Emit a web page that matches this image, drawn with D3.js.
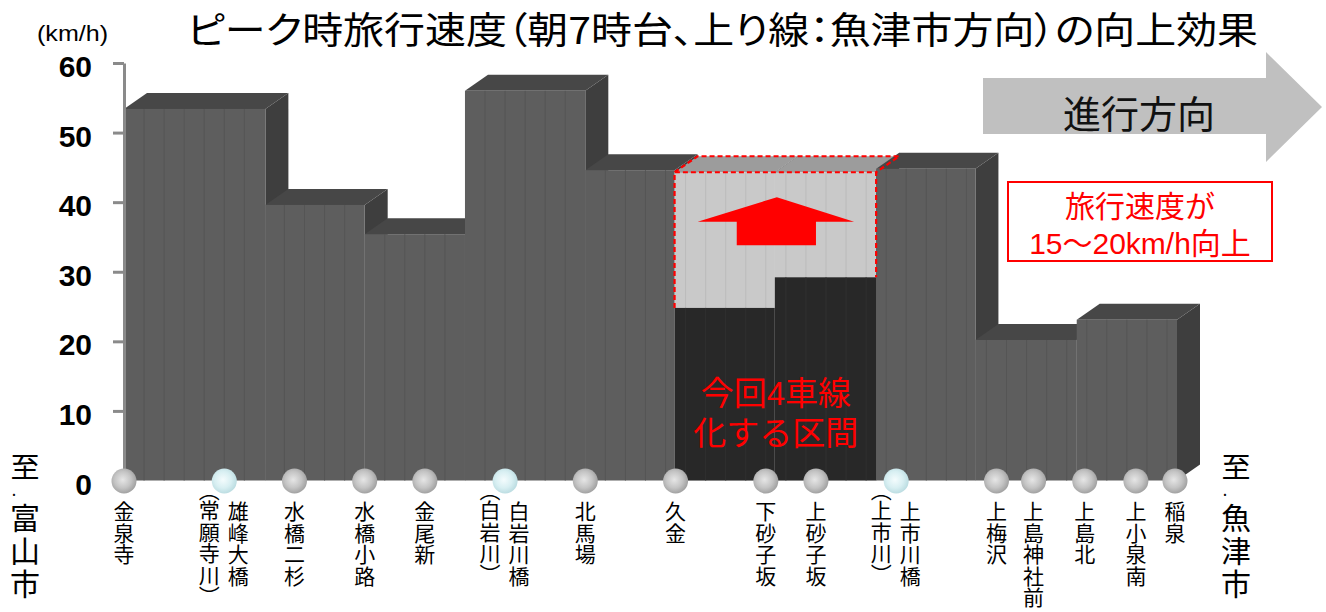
<!DOCTYPE html>
<html><head><meta charset="utf-8">
<script src="https://cdn.jsdelivr.net/npm/d3@7"></script>
<style>
html,body{margin:0;padding:0;background:#fff;}
svg{display:block;}
text{font-family:"Noto Sans CJK JP","Noto Sans",sans-serif;}
</style></head><body>
<svg id="c" width="1326" height="612"></svg>
<script>
// ---- data ----
const yTicks = [0, 10, 20, 30, 40, 50, 60];
const segStartKm = [0, 1.41, 2.40, 3.40, 4.60, 5.49, 6.49, 7.50, 8.49, 9.50];
const segEndKm   = [1.41, 2.40, 3.40, 4.60, 5.49, 6.49, 7.50, 8.49, 9.50, 10.50];
const speedBefore = [53.4, 39.6, 35.4, 56.0, 44.6, 24.8, 29.2, 44.8, 20.2, 23.1];
const speedAfter  = [null, null, null, null, null, 44.3, 44.3, null, null, null];
const stationNames = ["金泉寺","雄峰大橋","水橋二杉","水橋小路","金尾新","白岩川橋","北馬場","久金","下砂子坂","上砂子坂","上市川橋","上梅沢","上島神社前","上島北","上小泉南","稲泉"];
const stationSubs  = ["","（常願寺川）","","","","（白岩川）","","","","","（上市川）","","","","",""];
const stationKm    = [0, 1.0, 1.7, 2.4, 3.0, 3.8, 4.6, 5.5, 6.4, 6.9, 7.7, 8.7, 9.07, 9.58, 10.09, 10.48];
const stationBridge = [false,true,false,false,false,true,false,false,false,false,true,false,false,false,false,false];
const columnStepKm = 0.2;
const title = "ピーク時旅行速度（朝7時台、上り線：魚津市方向）の向上効果";
const unitLabel = "(km/h)";
const dirLabel = "進行方向";
const boxLines = ["旅行速度が", "15～20km/h向上"];
const sectionLines = ["今回4車線", "化する区間"];
const leftEnd = ["至", "富山市"], rightEnd = ["至", "魚津市"];
// improvement arrow (km, km/h)
const upArrow = {tip:[6.51, 40.7], wingL:5.72, wingR:7.28, wingY:37.2, shaftL:6.11, shaftR:6.90, shaftY:33.8};

// ---- scales ----
const svg = d3.select("#c");
const x = d3.scaleLinear().domain([0, 10.5]).range([124, 1177]);
const y = d3.scaleLinear().domain([0, 60]).range([480.5, 63]);
const DX = 23, DY = 16;
const latinFirst = "'Liberation Sans','Noto Sans CJK JP',sans-serif";

const defs = svg.append("defs");
function sphereGrad(id, c0, c1, c2){
  const g = defs.append("radialGradient").attr("id", id).attr("cx","45%").attr("cy","45%").attr("r","60%");
  g.append("stop").attr("offset","0%").attr("stop-color",c0);
  g.append("stop").attr("offset","55%").attr("stop-color",c1);
  g.append("stop").attr("offset","100%").attr("stop-color",c2);
}
sphereGrad("gGray", "#e6e6e6", "#c4c4c4", "#9a9a9a");
sphereGrad("gBlue", "#f4fcfd", "#d8eff2", "#b6d9de");

// title
svg.append("text").attr("x", 187).attr("y", 28).attr("dominant-baseline","central")
  .attr("font-size", 37).attr("fill","#000").style("font-feature-settings","'palt'")
  .attr("textLength", 1071).attr("lengthAdjust","spacingAndGlyphs").text(title);

svg.append("text").attr("x", 37).attr("y", 33).attr("dominant-baseline","central")
  .style("font-family","'Liberation Sans',Arial,sans-serif").attr("font-size", 22)
  .attr("textLength", 71).attr("lengthAdjust","spacingAndGlyphs").text(unitLabel);

// ---- bars ----
const gBars = svg.append("g");
function column(x0k, x1k, v, front, top, side){
  const x0 = x(x0k), x1 = x(x1k), yt = y(v), yb = y(0);
  gBars.append("polygon").attr("points", [[x1,yt],[x1+DX,yt-DY],[x1+DX,yb-DY],[x1,yb]].join(" ")).attr("fill", side);
  gBars.append("polygon").attr("points", [[x0,yt],[x0+DX,yt-DY],[x1+DX,yt-DY],[x1,yt]].join(" ")).attr("fill", top);
  gBars.append("rect").attr("x", x0).attr("y", yt).attr("width", x1-x0).attr("height", yb-yt).attr("fill", front);
}
function dividers(x0k, x1k, vTop, vBot, color){
  d3.range(columnStepKm, 10.5, columnStepKm).filter(k => k > x0k + 0.02 && k < x1k - 0.02).forEach(k => {
    gBars.append("line").attr("x1", x(k)).attr("x2", x(k)).attr("y1", y(vTop)).attr("y2", y(vBot))
      .attr("stroke", color).attr("stroke-width", 1);
  });
}
segStartKm.forEach((s, i) => {
  const e = segEndKm[i];
  if (speedAfter[i] != null) {
    column(s, e, speedAfter[i], "#c9c9c9", "#9c9c9c", "#3e3e3e");
    dividers(s, e, speedAfter[i], speedBefore[i], "#bbbbbb");
    gBars.append("rect").attr("x", x(s)).attr("y", y(speedBefore[i])).attr("width", x(e)-x(s))
      .attr("height", y(0)-y(speedBefore[i])).attr("fill", "#282828");
    dividers(s, e, speedBefore[i], 0, "#303030");
  } else {
    column(s, e, speedBefore[i], "#5e5e5e", "#474747", "#3e3e3e");
    dividers(s, e, speedBefore[i], 0, "#555555");
  }
});

// dashed outline of improved section
{
  const idx = speedAfter.map((v,i)=>v!=null?i:-1).filter(i=>i>=0);
  const s = segStartKm[idx[0]], e = segEndKm[idx[idx.length-1]];
  const va = speedAfter[idx[0]];
  const x0 = x(s), x1 = x(e), yt = y(va);
  const p = d3.path();
  p.moveTo(x0, y(speedBefore[idx[0]])); p.lineTo(x0, yt); p.lineTo(x1, yt); p.lineTo(x1, y(speedBefore[idx[idx.length-1]]));
  p.moveTo(x0, yt); p.lineTo(x0+DX, yt-DY); p.lineTo(x1+DX, yt-DY); p.lineTo(x1, yt);
  svg.append("path").attr("d", p.toString()).attr("fill","none").attr("stroke","#ff0000")
    .attr("stroke-width", 2.2).attr("stroke-dasharray","5,3");
}

// up arrow
{
  const a = upArrow;
  const pts = [[x(a.tip[0]), y(a.tip[1])],[x(a.wingR), y(a.wingY)],[x(a.shaftR), y(a.wingY)],[x(a.shaftR), y(a.shaftY)],
               [x(a.shaftL), y(a.shaftY)],[x(a.shaftL), y(a.wingY)],[x(a.wingL), y(a.wingY)]];
  svg.append("polygon").attr("points", pts.join(" ")).attr("fill","#ff0000");
}
sectionLines.forEach((t, i) => {
  svg.append("text").attr("x", x(6.5)).attr("y", 393 + i*40).attr("text-anchor","middle").attr("dominant-baseline","central")
    .style("font-family", latinFirst).attr("font-size", 33).attr("fill","#ff0000").text(t);
});

// ---- y axis ----
const axis = d3.axisLeft(y).tickValues(yTicks).tickSize(11).tickSizeOuter(0).tickPadding(21);
const gA = svg.append("g").attr("transform","translate(124,0)").call(axis);
gA.select(".domain").attr("stroke","#8a8a8a").attr("stroke-width",3);
gA.selectAll(".tick line").attr("stroke","#8a8a8a").attr("stroke-width",3);
gA.selectAll(".tick text").attr("fill","#000").attr("dy","0.35em").attr("transform","translate(0,3)")
  .style("font-family","'Liberation Sans',Arial,sans-serif").style("font-size","30px").style("font-weight","bold");

// ---- stations ----
const gS = svg.append("g");
stationNames.forEach((n, i) => {
  const cx = x(stationKm[i]);
  gS.append("circle").attr("cx", cx).attr("cy", 481).attr("r", 12.5)
    .attr("fill", stationBridge[i] ? "url(#gBlue)" : "url(#gGray)");
  const sub = stationSubs[i];
  const mx = sub ? cx + 14 : cx;
  gS.append("text").attr("x", mx).attr("y", 501).style("writing-mode","vertical-rl")
    .attr("font-size", 21).attr("letter-spacing", 0.5).attr("fill","#000").text(n);
  if (sub) {
    gS.append("text").attr("x", cx - 15).attr("y", 489).style("writing-mode","vertical-rl")
      .style("font-feature-settings","'vpal'")
      .attr("font-size", 21).attr("letter-spacing", 0.5).attr("fill","#000").text(sub);
  }
});
function endLabel(cx, parts){
  svg.append("text").attr("x", cx).attr("y", 452).style("writing-mode","vertical-rl")
    .attr("font-size", 29).attr("fill","#000").text(parts[0]);
  svg.append("text").attr("x", cx - 11).attr("y", 496).attr("text-anchor","middle")
    .attr("font-size", 16).attr("fill","#000").text(".");
  svg.append("text").attr("x", cx).attr("y", 503).style("writing-mode","vertical-rl")
    .attr("font-size", 30).attr("letter-spacing", 3).attr("fill","#000").text(parts[1]);
}
endLabel(25, leftEnd);
endLabel(1236, rightEnd);

// ---- direction arrow ----
svg.append("polygon").attr("points", [[983,78],[1266,78],[1266,52],[1322,107],[1266,162],[1266,134],[983,134]].join(" "))
  .attr("fill","#c0c0c0");
svg.append("text").attr("x", 1139).attr("y", 111).attr("text-anchor","middle").attr("dominant-baseline","central")
  .attr("font-size", 38).attr("fill","#111").text(dirLabel);

// ---- red box ----
svg.append("rect").attr("x", 1008).attr("y", 182).attr("width", 264).attr("height", 79)
  .attr("fill","#fff").attr("stroke","#ff0000").attr("stroke-width", 2);
boxLines.forEach((t, i) => {
  svg.append("text").attr("x", 1140).attr("y", 206 + i*37).attr("text-anchor","middle").attr("dominant-baseline","central")
    .style("font-family", latinFirst).attr("font-size", 30).attr("fill","#ff0000").text(t);
});
</script>
</body></html>
